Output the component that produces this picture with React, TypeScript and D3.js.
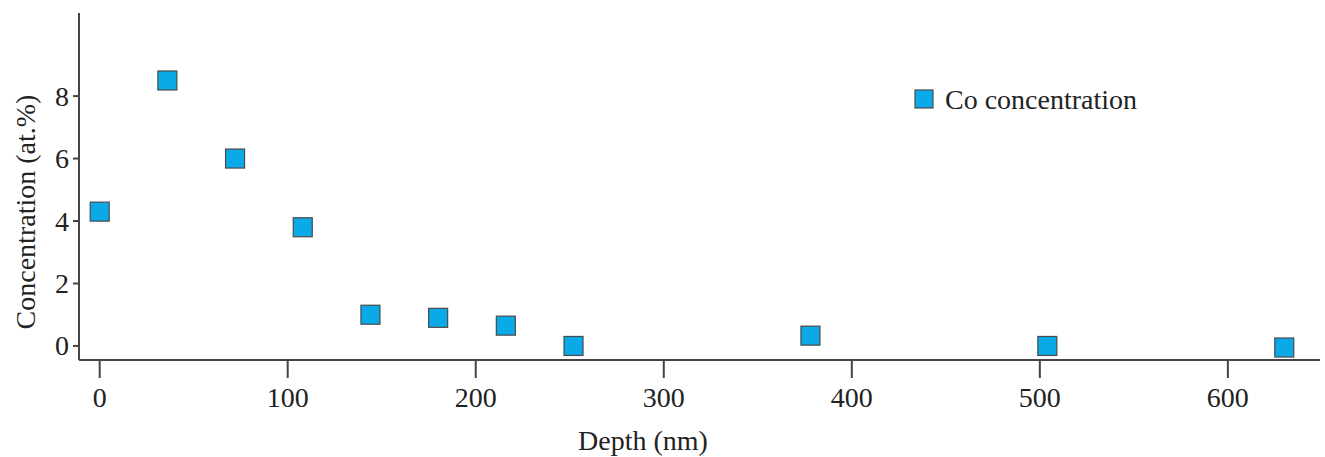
import React, { useEffect, useRef } from "react";
import * as d3 from "d3";

// Co depth profile
const depths = [0, 36, 72, 108, 144, 180, 216, 252, 378, 504, 630];
const concentrations = [4.3, 8.5, 6.0, 3.8, 1.0, 0.9, 0.65, 0.0, 0.33, 0.0, -0.05];
const xTicks = [0, 100, 200, 300, 400, 500, 600];
const yTicks = [0, 2, 4, 6, 8];
const seriesName = "Co concentration";

const width = 1325;
const height = 457;

const App = () => {
  const ref = useRef<SVGSVGElement>(null);

  useEffect(() => {
    const svg = d3.select(ref.current);
    svg.selectAll("*").remove();

    const axisColor = "#444";
    const font = "'Liberation Serif', 'Times New Roman', serif";
    const fill = "#0aaae8";

    const x = d3.scaleLinear().domain([-11, 649]).range([79, 1320]);
    const y = d3.scaleLinear().domain([-0.45, 10.66]).range([360, 13]);

    // x axis
    const xg = svg.append("g").attr("transform", `translate(0,${y(-0.45)})`);
    xg.append("line")
      .attr("x1", x(-11)).attr("x2", x(649))
      .attr("stroke", axisColor).attr("stroke-width", 2);
    xg.selectAll("g.tick")
      .data(xTicks)
      .join("g")
      .attr("transform", d => `translate(${x(d)},0)`)
      .each(function () {
        d3.select(this).append("line").attr("y2", 18).attr("stroke", axisColor).attr("stroke-width", 2);
        d3.select(this).append("text")
          .attr("y", 47).attr("text-anchor", "middle")
          .attr("font-family", font).attr("font-size", 28).attr("fill", "#222")
          .text(d => String(d));
      });

    // y axis
    const yg = svg.append("g").attr("transform", `translate(${x(-11)},0)`);
    yg.append("line")
      .attr("y1", y(10.66)).attr("y2", y(-0.45))
      .attr("stroke", axisColor).attr("stroke-width", 2);
    yg.selectAll("g.tick")
      .data(yTicks)
      .join("g")
      .attr("transform", d => `translate(0,${y(d)})`)
      .each(function () {
        d3.select(this).append("line").attr("x2", -6).attr("stroke", axisColor).attr("stroke-width", 2);
        d3.select(this).append("text")
          .attr("x", -10).attr("dy", "0.34em").attr("text-anchor", "end")
          .attr("font-family", font).attr("font-size", 28).attr("fill", "#222")
          .text(d => String(d));
      });

    // axis titles
    svg.append("text")
      .attr("x", 643).attr("y", 450).attr("text-anchor", "middle")
      .attr("font-family", font).attr("font-size", 28).attr("fill", "#222")
      .text("Depth (nm)");
    svg.append("text")
      .attr("transform", `translate(35,212) rotate(-90)`)
      .attr("text-anchor", "middle")
      .attr("font-family", font).attr("font-size", 28).attr("fill", "#222")
      .text("Concentration (at.%)");

    // points
    const s = 19;
    svg.append("g")
      .selectAll("rect")
      .data(depths.map((d, i) => ({ d, c: concentrations[i] })))
      .join("rect")
      .attr("x", p => x(p.d) - s / 2)
      .attr("y", p => y(p.c) - s / 2)
      .attr("width", s).attr("height", s)
      .attr("fill", fill).attr("stroke", "#4a4a4a").attr("stroke-width", 1.2);

    // legend
    const lg = svg.append("g").attr("transform", "translate(924,99)");
    lg.append("rect")
      .attr("x", -9).attr("y", -9).attr("width", 18).attr("height", 18)
      .attr("fill", fill).attr("stroke", "#4a4a4a").attr("stroke-width", 1.2);
    lg.append("text")
      .attr("x", 21).attr("dy", "0.34em")
      .attr("font-family", font).attr("font-size", 28).attr("fill", "#222")
      .text(seriesName);
  }, []);

  return (
    <svg
      ref={ref}
      width={width}
      height={height}
      style={{ position: "absolute", left: 0, top: 0, background: "#fff" }}
    />
  );
};

export default App;
